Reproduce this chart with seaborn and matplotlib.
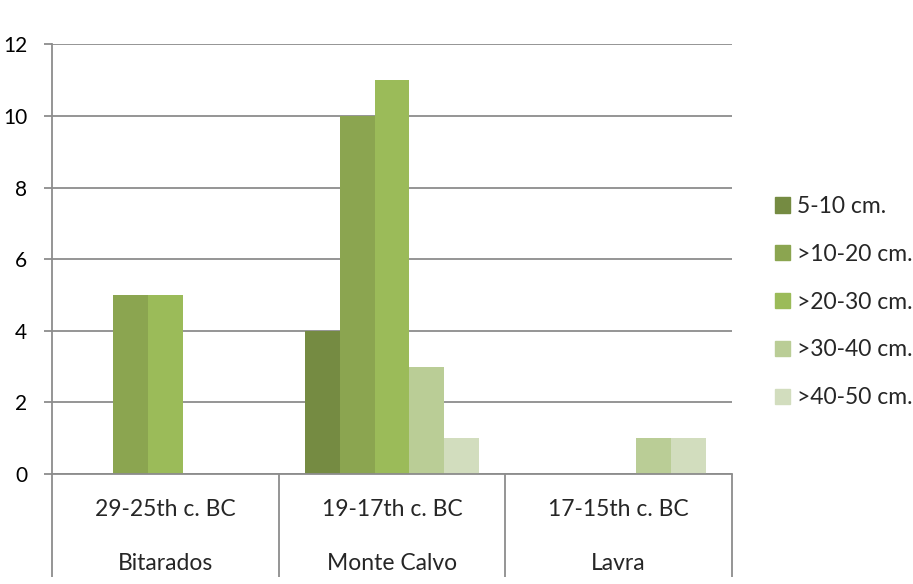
import matplotlib
matplotlib.use("Agg")
import matplotlib.pyplot as plt
import matplotlib.transforms as mtransforms
import seaborn as sns
import pandas as pd

periods = ["29-25th c. BC", "19-17th c. BC", "17-15th c. BC"]
sites = ["Bitarados", "Monte Calvo", "Lavra"]
series = ["5-10 cm.", ">10-20 cm.", ">20-30 cm.", ">30-40 cm.", ">40-50 cm."]
v_5_10 = [0, 4, 0]
v_10_20 = [5, 10, 0]
v_20_30 = [5, 11, 0]
v_30_40 = [0, 3, 1]
v_40_50 = [0, 1, 1]
colors = ["#758B42", "#8BA550", "#9BBB59", "#BACD96", "#D2DDBE"]

rows = []
for s, vals in zip(series, [v_5_10, v_10_20, v_20_30, v_30_40, v_40_50]):
    for site, v in zip(sites, vals):
        rows.append({"site": site, "size": s, "count": v})
df = pd.DataFrame(rows)

sns.set_theme(style="white")
plt.rcParams["font.family"] = ["Lato", "DejaVu Sans"]

W, H = 913, 584
L, R, T, B = 52, 732, 44.3, 474
fig = plt.figure(figsize=(W / 100, H / 100), dpi=100)
ax = fig.add_axes([L / W, 1 - B / H, (R - L) / W, (B - T) / H])

sns.barplot(data=df, x="site", y="count", hue="size", order=sites, hue_order=series,
            palette=colors, width=0.767, linewidth=0, saturation=1, ax=ax, legend=True)

grid_c = "#8C8C8C"
ax.set_ylim(0, 12)
ax.set_xlim(-0.5, 2.5)
ax.set_yticks(range(0, 13, 2))
ax.yaxis.grid(True, color=grid_c, linewidth=1.3)
ax.set_axisbelow(True)
for side in ["top", "right"]:
    ax.spines[side].set_visible(False)
for side in ["left", "bottom"]:
    ax.spines[side].set_color(grid_c)
    ax.spines[side].set_linewidth(1.3)
ax.tick_params(axis="y", left=True, length=5.8, width=1.3, color=grid_c,
               labelsize=15, pad=12, labelcolor="black")
ax.set_xticks([])
ax.set_xlabel("")
ax.set_ylabel("")

# two-level category axis
trans = mtransforms.blended_transform_factory(ax.transData, ax.transAxes)
hpx = B - T
bottom_frac = -(577 - B) / hpx
for xb in [-0.5, 0.5, 1.5, 2.5]:
    ax.plot([xb, xb], [0, bottom_frac], transform=trans, color=grid_c,
            linewidth=1.3, clip_on=False, solid_capstyle="butt")
for i, (p, s) in enumerate(zip(periods, sites)):
    ax.text(i, -(509 - B) / hpx, p, transform=trans, ha="center", va="center",
            fontsize=16.5)
    ax.text(i, -(563.5 - B) / hpx, s, transform=trans, ha="center", va="center",
            fontsize=16.5)

ax.get_legend().remove()
handles = [plt.Rectangle((0, 0), 1, 1, color=c) for c in colors]
fig.legend(handles, series, loc="upper left", bbox_to_anchor=(775 / W, 1 - 196 / H),
           frameon=False, fontsize=16.5, handlelength=0.655, handleheight=0.655,
           handletextpad=0.31, labelspacing=1.17, borderaxespad=0, borderpad=0)

fig.savefig("out.png", dpi=100)
